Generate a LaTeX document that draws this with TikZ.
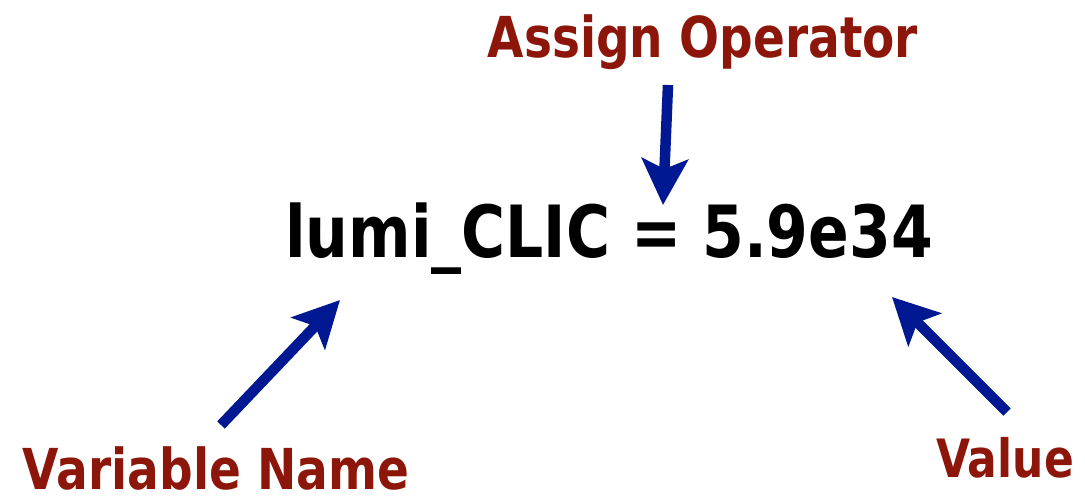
\documentclass[tikz,border=0pt]{standalone}
\usepackage{fontspec}
\usepackage{graphicx}
\setmainfont{DejaVu Sans}
\usetikzlibrary{arrows.meta}
\definecolor{lblred}{RGB}{140,22,10}
\definecolor{arrblue}{RGB}{0,24,145}
% stretch text a little upwards
\newcommand{\tallbox}[1]{\scalebox{1}[1.2]{#1}}
\tikzset{
  lbl/.style={text=lblred, font=\bfseries\fontsize{47}{50}\selectfont, anchor=base, inner sep=0pt, text depth=0pt},
  code/.style={font=\bfseries\fontsize{60}{64}\selectfont, anchor=base, inner sep=0pt},
  ptr/.style={-{Stealth[length=46pt, width=46pt, inset=10pt]}, arrblue, line width=10.5pt}
}
\begin{document}
\begin{tikzpicture}[x=1pt, y=-1pt]
  \useasboundingbox (0,0) rectangle (1085,499);
  \node[code] (stmt) at (609,257) {\tallbox{lumi\_CLIC = 5.9e34}};
  \node[lbl] (op) at (703,57) {\tallbox{Assign Operator}};
  \node[lbl] (var) at (216,489) {\tallbox{Variable Name}};
  \node[lbl, font=\bfseries\fontsize{44}{48}\selectfont] (val) at (1005,477) {\tallbox{Value}};
  % arrows from labels to the statement
  \coordinate (optail) at (668,85);
  \coordinate (ophead) at (663,205);
  \coordinate (vartail) at (221,425);
  \coordinate (varhead) at (340,300);
  \coordinate (valtail) at (1007,412);
  \coordinate (valhead) at (892,297);
  \draw[ptr] (optail) -- (ophead);
  \draw[ptr] (vartail) -- (varhead);
  \draw[ptr] (valtail) -- (valhead);
\end{tikzpicture}
\end{document}
